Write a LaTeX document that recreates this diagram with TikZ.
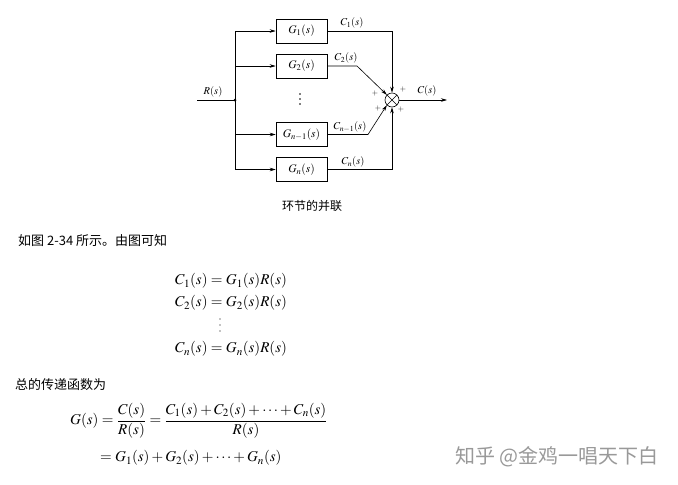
\documentclass[tikz,border=0pt]{standalone}
\usepackage{amsmath}
\usepackage{mathptmx}
\usepackage{fontspec}
\newfontfamily\cjk{Noto Sans CJK SC}
\usetikzlibrary{arrows.meta}
\tikzset{
  blk/.style={draw, line width=0.6pt, minimum width=51pt, minimum height=24pt, inner sep=0pt, font=\fontsize{11.5}{13}\selectfont},
  lbl/.style={inner sep=0pt, font=\fontsize{10.5}{12}\selectfont},
  pl/.style={inner sep=0pt, font=\fontsize{8}{9}\selectfont},
  arr/.style={-{Stealth[length=6pt,width=3.5pt]}, line width=0.6pt},
  ln/.style={line width=0.6pt},
  sumj/.style={draw, circle, line width=0.6pt, minimum size=14pt, inner sep=0pt,
    path picture={\draw[line width=0.6pt] (path picture bounding box.north west) -- (path picture bounding box.south east) (path picture bounding box.north east) -- (path picture bounding box.south west);}},
  txt/.style={inner sep=0pt, anchor=west, font=\cjk\fontsize{13}{15}\selectfont},
  eq/.style={inner sep=0pt, anchor=west, font=\fontsize{15}{18}\selectfont},
  dotv/.style={fill, radius=0.8pt}
}
\begin{document}
\begin{tikzpicture}[x=1pt,y=-1pt]
\useasboundingbox[fill=white] (0,0) rectangle (678,485);
% blocks
\node[blk] (g1) at (301.5,31) {$G_1(s)$};
\node[blk] (g2) at (301.5,66) {$G_2(s)$};
\node[blk] (g3) at (301.5,134.5) {$G_{n-1}(s)$};
\node[blk] (g4) at (301.5,169.5) {$G_n(s)$};
\fill (300,94) circle (0.8pt) (300,99) circle (0.8pt) (300,104) circle (0.8pt);
\node[sumj] (sum) at (392,100) {};
% input
\coordinate (rin) at (197,100);
\coordinate (b) at (235,100);
\coordinate (out) at (447,100);
\draw[ln] (rin) -- (b);
\fill (b) circle (1.5pt);
\draw[arr] (b) |- (g1.west);
\draw[arr] (b) |- (g2.west);
\draw[arr] (b) |- (g3.west);
\draw[arr] (b) |- (g4.west);
% outputs
\coordinate (k2) at (357,66);
\coordinate (k3) at (368,134.5);
\draw[arr] (g1.east) -| (sum.north);
\draw[arr] (g2.east) -- (k2) -- (sum.north west);
\draw[arr] (g3.east) -- (k3) -- (sum.south west);
\draw[arr] (g4.east) -| (sum.south);
\draw[arr] (sum.east) -- (out);
% labels
\node[lbl] (lr) at (213,92) {$R(s)$};
\node[lbl] (lc) at (427,91) {$C(s)$};
\node[lbl] (l1) at (352,23) {$C_1(s)$};
\node[lbl] (l2) at (346,58) {$C_2(s)$};
\node[lbl] (l3) at (350,127) {$C_{n-1}(s)$};
\node[lbl] (l4) at (353,162) {$C_n(s)$};
\node[pl] (p1) at (375,93) {$+$};
\node[pl] (p2) at (403,89) {$+$};
\node[pl] (p3) at (378,108) {$+$};
\node[pl] (p4) at (401,109) {$+$};
\node[inner sep=0pt, font=\cjk\fontsize{12}{14}\selectfont] (cap) at (312,206) {环节的并联};
% text
\node[txt] (t1) at (18,241) {如图 2-34 所示。由图可知};
\node[eq] (e1) at (175,281) {$C_1(s)=G_1(s)R(s)$};
\node[eq] (e2) at (175,303) {$C_2(s)=G_2(s)R(s)$};
\fill (220,319) circle (0.7pt) (220,325) circle (0.7pt) (220,331) circle (0.7pt);
\node[eq] (e4) at (175,349) {$C_n(s)=G_n(s)R(s)$};
\node[txt] (t2) at (15,385) {总的传递函数为};
\node[eq] (e5) at (70,421) {$G(s)=\dfrac{C(s)}{R(s)}=\dfrac{C_1(s)+C_2(s)+\cdots+C_n(s)}{R(s)}$};
\node[eq] (e6) at (100,458) {$=G_1(s)+G_2(s)+\cdots+G_n(s)$};
\node[inner sep=0pt, text=black!40, font=\cjk\fontsize{20}{22}\selectfont] (wm) at (557,457) {知乎 @金鸡一唱天下白};
\end{tikzpicture}
\end{document}
